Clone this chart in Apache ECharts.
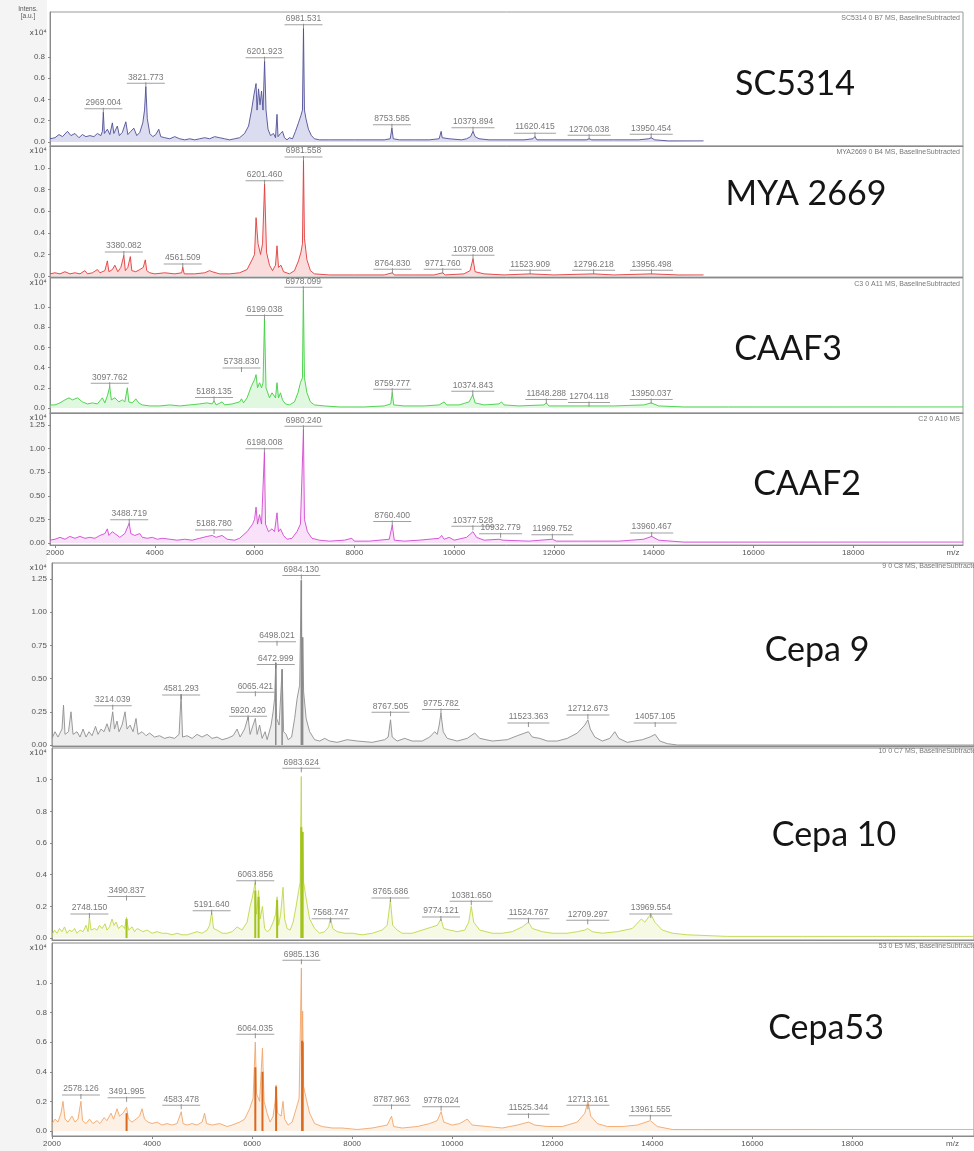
<!DOCTYPE html>
<html><head><meta charset="utf-8">
<script src="https://cdn.jsdelivr.net/npm/echarts@6/dist/echarts.min.js"></script>
<style>html,body{margin:0;padding:0;background:#fff}#c{width:974px;height:1151px}</style>
</head><body><div id="c"></div>
<script>
// ---------- DATA (intensity in units of 10^4 a.u., x = m/z) ----------
const strains = ['SC5314', 'MYA 2669', 'CAAF3', 'CAAF2', 'Cepa 9', 'Cepa 10', 'Cepa53'];
const headers = ['SC5314 0 B7 MS, BaselineSubtracted', 'MYA2669 0 B4 MS, BaselineSubtracted', 'C3 0 A11 MS, BaselineSubtracted', 'C2 0 A10 MS', '9 0 C8 MS, BaselineSubtracted', '10 0 C7 MS, BaselineSubtracted', '53 0 E5 MS, BaselineSubtracted'];
const xTicksTop = [2000, 4000, 6000, 8000, 10000, 12000, 14000, 16000, 18000, 20000];
const xTicksBottom = [2000, 4000, 6000, 8000, 10000, 12000, 14000, 16000, 18000, 20000];
const yTicks = [
  [0, 0.2, 0.4, 0.6, 0.8],
  [0, 0.2, 0.4, 0.6, 0.8, 1.0],
  [0, 0.2, 0.4, 0.6, 0.8, 1.0],
  [0, 0.25, 0.5, 0.75, 1.0, 1.25],
  [0, 0.25, 0.5, 0.75, 1.0, 1.25],
  [0, 0.2, 0.4, 0.6, 0.8, 1.0],
  [0, 0.2, 0.4, 0.6, 0.8, 1.0]
];

const specSC5314 = [[1900,0.03],[2000,0.04],[2080,0.07],[2150,0.05],[2250,0.1],[2320,0.06],[2400,0.08],[2480,0.04],[2550,0.07],[2620,0.05],[2700,0.06],[2780,0.05],[2850,0.08],[2920,0.06],[2950,0.1],[2969,0.28],[2990,0.08],[3050,0.12],[3100,0.07],[3150,0.18],[3180,0.08],[3250,0.15],[3290,0.06],[3350,0.09],[3420,0.19],[3460,0.07],[3520,0.1],[3580,0.13],[3640,0.06],[3700,0.09],[3760,0.18],[3795,0.3],[3821,0.52],[3850,0.22],[3900,0.08],[3960,0.05],[4020,0.07],[4080,0.12],[4120,0.05],[4200,0.04],[4300,0.03],[4400,0.05],[4500,0.03],[4600,0.02],[4700,0.03],[4800,0.02],[4900,0.03],[5000,0.04],[5100,0.03],[5200,0.05],[5300,0.04],[5400,0.03],[5500,0.02],[5600,0.03],[5700,0.04],[5800,0.08],[5880,0.15],[5940,0.3],[5990,0.45],[6030,0.55],[6050,0.3],[6080,0.5],[6110,0.35],[6140,0.48],[6170,0.3],[6201,0.76],[6230,0.3],[6270,0.12],[6320,0.06],[6380,0.08],[6420,0.04],[6450,0.26],[6470,0.05],[6520,0.08],[6560,0.1],[6600,0.04],[6650,0.02],[6700,0.04],[6760,0.03],[6820,0.1],[6880,0.18],[6930,0.25],[6960,0.3],[6981,1.07],[7000,0.3],[7030,0.22],[7080,0.12],[7140,0.06],[7200,0.03],[7300,0.02],[7500,0.02],[8000,0.02],[8600,0.02],[8720,0.03],[8753,0.13],[8780,0.03],[8900,0.02],[9200,0.02],[9500,0.02],[9700,0.03],[9740,0.1],[9760,0.04],[9900,0.03],[10150,0.02],[10250,0.03],[10330,0.05],[10379,0.1],[10420,0.05],[10500,0.03],[10700,0.02],[11000,0.02],[11400,0.02],[11580,0.03],[11620,0.05],[11660,0.02],[12000,0.02],[12400,0.02],[12650,0.02],[12706,0.03],[12760,0.02],[13200,0.02],[13700,0.02],[13900,0.03],[13950,0.04],[14020,0.02],[14300,0.01],[15000,0.01]];

const specMYA2669 = [[1900,0.02],[2000,0.03],[2100,0.02],[2200,0.04],[2300,0.02],[2400,0.03],[2500,0.02],[2600,0.05],[2650,0.02],[2750,0.03],[2850,0.06],[2900,0.03],[3000,0.05],[3050,0.14],[3080,0.04],[3150,0.06],[3200,0.1],[3260,0.04],[3320,0.08],[3380,0.19],[3410,0.05],[3460,0.08],[3510,0.18],[3540,0.05],[3620,0.04],[3700,0.06],[3770,0.08],[3810,0.15],[3840,0.05],[3900,0.03],[4000,0.02],[4200,0.03],[4400,0.02],[4540,0.03],[4561,0.08],[4590,0.02],[4800,0.02],[5000,0.03],[5100,0.05],[5150,0.04],[5300,0.02],[5500,0.02],[5700,0.03],[5850,0.06],[5950,0.15],[6000,0.2],[6030,0.54],[6070,0.3],[6120,0.2],[6160,0.3],[6201,0.85],[6240,0.22],[6300,0.1],[6360,0.05],[6420,0.1],[6450,0.28],[6480,0.08],[6530,0.1],[6580,0.04],[6700,0.02],[6800,0.05],[6880,0.14],[6930,0.22],[6960,0.3],[6981,1.07],[7000,0.35],[7050,0.15],[7120,0.05],[7200,0.02],[7500,0.01],[8000,0.01],[8600,0.01],[8764,0.03],[8800,0.01],[9200,0.01],[9600,0.01],[9771,0.03],[9820,0.01],[10200,0.02],[10320,0.05],[10379,0.16],[10420,0.04],[10600,0.02],[11000,0.01],[11523,0.02],[12000,0.01],[12796,0.02],[13200,0.01],[13956,0.02],[14500,0.01],[15000,0.01]];

const specCAAF3 = [[1900,0.03],[2000,0.03],[2100,0.05],[2200,0.08],[2280,0.1],[2350,0.08],[2450,0.1],[2550,0.06],[2650,0.04],[2750,0.05],[2850,0.04],[2950,0.1],[3000,0.05],[3050,0.12],[3097,0.21],[3130,0.08],[3200,0.1],[3280,0.06],[3350,0.08],[3400,0.06],[3450,0.2],[3480,0.06],[3550,0.05],[3620,0.09],[3680,0.05],[3750,0.03],[3900,0.02],[4100,0.02],[4300,0.03],[4500,0.02],[4700,0.03],[4900,0.04],[5050,0.05],[5150,0.04],[5188,0.07],[5230,0.03],[5350,0.06],[5400,0.03],[5550,0.04],[5700,0.06],[5738,0.09],[5780,0.05],[5850,0.1],[5940,0.22],[6000,0.28],[6030,0.33],[6060,0.2],[6100,0.25],[6140,0.2],[6170,0.25],[6199,0.88],[6230,0.2],[6300,0.1],[6350,0.15],[6420,0.1],[6450,0.25],[6480,0.1],[6520,0.15],[6560,0.08],[6620,0.04],[6700,0.03],[6800,0.06],[6870,0.15],[6920,0.25],[6960,0.3],[6978,1.16],[7000,0.3],[7050,0.15],[7120,0.06],[7200,0.03],[7400,0.02],[7700,0.01],[8200,0.01],[8600,0.02],[8730,0.04],[8759,0.15],[8790,0.03],[9000,0.02],[9400,0.02],[9700,0.03],[9800,0.06],[9850,0.03],[10100,0.03],[10300,0.06],[10374,0.13],[10420,0.05],[10600,0.03],[10900,0.04],[10950,0.06],[11000,0.03],[11300,0.02],[11800,0.03],[11848,0.05],[11900,0.02],[12300,0.02],[12704,0.02],[13200,0.02],[13800,0.03],[13950,0.05],[14100,0.02],[14600,0.01],[15500,0.01],[20200,0.01]];

const specCAAF2 = [[1900,0.03],[2000,0.04],[2100,0.06],[2200,0.04],[2300,0.07],[2400,0.05],[2500,0.07],[2600,0.05],[2700,0.06],[2800,0.05],[2900,0.08],[3000,0.1],[3050,0.15],[3080,0.08],[3150,0.12],[3200,0.1],[3300,0.06],[3400,0.1],[3488,0.21],[3520,0.1],[3600,0.08],[3700,0.1],[3750,0.06],[3850,0.05],[3950,0.06],[4050,0.04],[4150,0.05],[4300,0.04],[4450,0.03],[4600,0.04],[4750,0.03],[4900,0.05],[5050,0.07],[5150,0.08],[5188,0.1],[5230,0.06],[5350,0.08],[5450,0.04],[5600,0.03],[5700,0.05],[5850,0.12],[5960,0.2],[6000,0.25],[6030,0.38],[6060,0.2],[6100,0.3],[6140,0.2],[6170,0.22],[6198,0.96],[6220,0.2],[6280,0.12],[6350,0.15],[6400,0.12],[6450,0.32],[6480,0.12],[6520,0.15],[6580,0.08],[6650,0.04],[6750,0.05],[6850,0.12],[6920,0.2],[6960,0.22],[6980,1.2],[7000,0.25],[7060,0.12],[7150,0.05],[7300,0.03],[7500,0.02],[7800,0.03],[7950,0.05],[8000,0.02],[8300,0.02],[8700,0.04],[8760,0.19],[8800,0.03],[9000,0.02],[9300,0.03],[9700,0.05],[9750,0.08],[9800,0.04],[9900,0.06],[10000,0.03],[10250,0.06],[10377,0.12],[10450,0.06],[10600,0.03],[10900,0.04],[10932,0.06],[10980,0.03],[11500,0.02],[11969,0.04],[12050,0.02],[12500,0.02],[13300,0.02],[13800,0.04],[13960,0.07],[14100,0.03],[14600,0.01],[15500,0.01],[20200,0.01]];

const specCepa9 = [[2000,0.05],[2060,0.1],[2120,0.06],[2200,0.12],[2230,0.3],[2260,0.08],[2330,0.1],[2380,0.25],[2420,0.08],[2500,0.1],[2560,0.06],[2620,0.12],[2680,0.06],[2740,0.1],[2800,0.07],[2870,0.14],[2920,0.08],[2980,0.12],[3040,0.1],[3100,0.16],[3150,0.1],[3214,0.25],[3250,0.12],[3300,0.18],[3340,0.1],[3400,0.15],[3460,0.25],[3500,0.12],[3560,0.15],[3620,0.1],[3680,0.2],[3720,0.08],[3800,0.1],[3880,0.07],[3950,0.09],[4050,0.06],[4150,0.07],[4250,0.05],[4350,0.06],[4450,0.05],[4540,0.08],[4581,0.38],[4610,0.06],[4700,0.07],[4800,0.05],[4900,0.08],[5000,0.06],[5100,0.08],[5200,0.05],[5300,0.06],[5400,0.04],[5500,0.05],[5620,0.07],[5700,0.12],[5760,0.06],[5850,0.12],[5920,0.21],[5960,0.08],[6020,0.15],[6065,0.2],[6100,0.08],[6150,0.15],[6200,0.05],[6260,0.1],[6300,0.04],[6380,0.15],[6420,0.25],[6450,0.35],[6473,0.62],[6490,0.2],[6540,0.15],[6600,0.57],[6630,0.1],[6680,0.08],[6720,0.04],[6790,0.06],[6850,0.2],[6900,0.35],[6950,0.45],[6984,1.24],[6995,0.5],[7010,0.81],[7030,0.4],[7080,0.2],[7150,0.1],[7250,0.04],[7350,0.03],[7450,0.05],[7550,0.03],[7700,0.02],[7900,0.04],[8100,0.03],[8400,0.02],[8650,0.04],[8720,0.06],[8767,0.19],[8800,0.06],[8900,0.03],[9050,0.05],[9200,0.03],[9400,0.03],[9550,0.06],[9650,0.1],[9700,0.08],[9740,0.15],[9775,0.24],[9820,0.1],[9900,0.05],[10100,0.03],[10300,0.05],[10450,0.09],[10550,0.05],[10800,0.03],[11100,0.04],[11300,0.07],[11450,0.09],[11523,0.1],[11600,0.06],[11750,0.05],[11900,0.03],[12100,0.03],[12300,0.05],[12500,0.09],[12650,0.15],[12712,0.19],[12760,0.12],[12850,0.06],[13000,0.03],[13150,0.05],[13250,0.1],[13330,0.05],[13500,0.02],[13800,0.04],[13950,0.06],[14057,0.08],[14150,0.03],[14300,0.01],[14500,0.0],[20430,0.0]];
const darkCepa9 = [[6473,0.62],[6600,0.57],[6984,1.24],[7010,0.81]];

const specCepa10 = [[2000,0.02],[2050,0.05],[2100,0.03],[2150,0.06],[2200,0.04],[2250,0.07],[2300,0.03],[2350,0.05],[2400,0.04],[2450,0.06],[2500,0.03],[2560,0.05],[2620,0.04],[2680,0.08],[2720,0.04],[2748,0.13],[2780,0.05],[2850,0.06],[2900,0.05],[2950,0.08],[3000,0.06],[3060,0.09],[3100,0.05],[3150,0.07],[3200,0.12],[3240,0.08],[3280,0.1],[3330,0.06],[3400,0.08],[3450,0.06],[3490,0.13],[3530,0.05],[3600,0.07],[3650,0.04],[3700,0.06],[3760,0.05],[3820,0.04],[3900,0.05],[4000,0.03],[4100,0.04],[4200,0.03],[4300,0.03],[4400,0.02],[4500,0.03],[4600,0.02],[4700,0.02],[4800,0.03],[4900,0.04],[5000,0.03],[5100,0.05],[5150,0.08],[5191,0.16],[5230,0.06],[5300,0.05],[5400,0.03],[5500,0.03],[5600,0.04],[5700,0.07],[5800,0.05],[5900,0.1],[5960,0.2],[6000,0.25],[6030,0.3],[6063,0.35],[6090,0.15],[6130,0.3],[6160,0.12],[6207,0.2],[6250,0.06],[6300,0.04],[6350,0.05],[6420,0.1],[6470,0.15],[6500,0.26],[6530,0.08],[6570,0.15],[6618,0.32],[6650,0.12],[6700,0.06],[6760,0.05],[6820,0.1],[6880,0.2],[6930,0.3],[6960,0.35],[6983,1.02],[6995,0.5],[7010,0.67],[7030,0.35],[7080,0.25],[7150,0.12],[7250,0.06],[7350,0.03],[7450,0.04],[7530,0.07],[7568,0.13],[7610,0.06],[7700,0.04],[7850,0.03],[8000,0.03],[8200,0.02],[8400,0.03],[8600,0.05],[8700,0.08],[8765,0.24],[8810,0.08],[8900,0.05],[9000,0.03],[9200,0.03],[9400,0.05],[9600,0.07],[9700,0.08],[9774,0.12],[9830,0.06],[9950,0.05],[10100,0.04],[10250,0.05],[10330,0.1],[10381,0.2],[10430,0.1],[10550,0.05],[10800,0.03],[11000,0.03],[11200,0.04],[11400,0.07],[11524,0.1],[11600,0.06],[11800,0.04],[12000,0.03],[12300,0.03],[12500,0.04],[12650,0.05],[12709,0.06],[12800,0.04],[13000,0.03],[13300,0.04],[13600,0.06],[13780,0.12],[13850,0.1],[13969,0.15],[14050,0.1],[14200,0.05],[14400,0.03],[14700,0.02],[15500,0.01],[17000,0.01],[20430,0.01]];
const darkCepa10 = [[3490,0.12],[6063,0.3],[6130,0.26],[6500,0.24],[6983,0.7],[7010,0.67]];

const specCepa53 = [[2000,0.05],[2060,0.08],[2120,0.06],[2180,0.12],[2220,0.2],[2260,0.08],[2320,0.06],[2400,0.1],[2460,0.06],[2520,0.08],[2578,0.2],[2610,0.07],[2680,0.05],[2750,0.08],[2820,0.05],[2900,0.07],[2960,0.05],[3040,0.09],[3100,0.07],[3180,0.12],[3230,0.08],[3300,0.15],[3350,0.1],[3420,0.12],[3491,0.16],[3530,0.08],[3600,0.06],[3680,0.08],[3750,0.1],[3800,0.15],[3850,0.08],[3920,0.06],[4000,0.05],[4100,0.06],[4200,0.04],[4300,0.05],[4400,0.04],[4500,0.05],[4583,0.13],[4620,0.05],[4700,0.04],[4800,0.05],[4900,0.04],[5000,0.06],[5050,0.12],[5090,0.05],[5200,0.04],[5350,0.05],[5500,0.03],[5600,0.04],[5750,0.06],[5850,0.08],[5950,0.15],[6020,0.22],[6064,0.6],[6090,0.25],[6150,0.2],[6207,0.56],[6240,0.2],[6300,0.12],[6360,0.06],[6420,0.1],[6460,0.2],[6480,0.31],[6510,0.12],[6580,0.1],[6618,0.2],[6650,0.08],[6720,0.04],[6800,0.06],[6880,0.15],[6940,0.22],[6985,1.1],[6995,0.5],[7010,0.81],[7030,0.3],[7080,0.22],[7150,0.12],[7250,0.05],[7400,0.03],[7600,0.02],[7800,0.02],[8100,0.01],[8400,0.02],[8700,0.04],[8787,0.1],[8830,0.03],[9000,0.02],[9300,0.03],[9550,0.05],[9700,0.07],[9778,0.13],[9830,0.06],[10000,0.04],[10150,0.05],[10300,0.08],[10400,0.04],[10700,0.03],[11000,0.02],[11300,0.04],[11525,0.06],[11650,0.04],[11900,0.03],[12200,0.03],[12500,0.06],[12650,0.12],[12713,0.2],[12770,0.1],[12900,0.05],[13100,0.03],[13400,0.03],[13700,0.04],[13961,0.07],[14100,0.03],[14400,0.01],[15000,0.01],[20430,0.01]];
const darkCepa53 = [[3491,0.12],[6064,0.43],[6207,0.4],[6480,0.3],[7000,0.61],[7010,0.6]];

// peak annotations: [m/z, intensity at label anchor, text]
const peaksSC5314 = [[2969,0.28,'2969.004'],[3821,0.52,'3821.773'],[6201,0.76,'6201.923'],[6981,1.07,'6981.531'],[8753,0.13,'8753.585'],[10379,0.1,'10379.894'],[11620,0.05,'11620.415'],[12706,0.03,'12706.038'],[13950,0.04,'13950.454']];
const peaksMYA2669 = [[3380,0.19,'3380.082'],[4561,0.08,'4561.509'],[6201,0.85,'6201.460'],[6981,1.07,'6981.558'],[8764,0.03,'8764.830'],[9771,0.03,'9771.760'],[10379,0.16,'10379.008'],[11523,0.02,'11523.909'],[12796,0.02,'12796.218'],[13956,0.02,'13956.498']];
const peaksCAAF3 = [[3097,0.21,'3097.762'],[5188,0.07,'5188.135'],[5738,0.36,'5738.830'],[6199,0.88,'6199.038'],[6978,1.16,'6978.099'],[8759,0.15,'8759.777'],[10374,0.13,'10374.843'],[11848,0.05,'11848.288'],[12704,0.02,'12704.118'],[13950,0.05,'13950.037']];
const peaksCAAF2 = [[3488,0.21,'3488.719'],[5188,0.1,'5188.780'],[6198,0.96,'6198.008'],[6980,1.2,'6980.240'],[8760,0.19,'8760.400'],[10377,0.14,'10377.528'],[10932,0.06,'10932.779'],[11969,0.05,'11969.752'],[13960,0.07,'13960.467']];
const peaksCepa9 = [[3214,0.27,'3214.039'],[4581,0.35,'4581.293'],[5920,0.19,'5920.420'],[6065,0.37,'6065.421'],[6473,0.58,'6472.999'],[6498,0.75,'6498.021'],[6984,1.25,'6984.130'],[8767,0.22,'8767.505'],[9775,0.24,'9775.782'],[11523,0.14,'11523.363'],[12712,0.2,'12712.673'],[14057,0.14,'14057.105']];
const peaksCepa10 = [[2748,0.13,'2748.150'],[3490,0.24,'3490.837'],[5191,0.15,'5191.640'],[6063,0.34,'6063.856'],[6983,1.05,'6983.624'],[7568,0.1,'7568.747'],[8765,0.23,'8765.686'],[9774,0.11,'9774.121'],[10381,0.21,'10381.650'],[11524,0.1,'11524.767'],[12709,0.09,'12709.297'],[13969,0.13,'13969.554']];
const peaksCepa53 = [[2578,0.22,'2578.126'],[3491,0.2,'3491.995'],[4583,0.15,'4583.478'],[6064,0.63,'6064.035'],[6985,1.13,'6985.136'],[8787,0.15,'8787.963'],[9778,0.14,'9778.024'],[11525,0.09,'11525.344'],[12713,0.15,'12713.161'],[13961,0.08,'13961.555']];

// ---------- LAYOUT / STYLE ----------
const spectra = [specSC5314, specMYA2669, specCAAF3, specCAAF2, specCepa9, specCepa10, specCepa53];
const darks = [null, null, null, null, darkCepa9, darkCepa10, darkCepa53];
const peaks = [peaksSC5314, peaksMYA2669, peaksCAAF3, peaksCAAF2, peaksCepa9, peaksCepa10, peaksCepa53];
const colors = ['#4e4e96', '#e23a3a', '#3fcf3f', '#d246d2', '#8e8e8e', '#c2d64a', '#f2a66a'];
const areaColors = ['#9a9ad6', '#f39a9a', '#a6eca6', '#eeaaee', '#cfcfcf', '#e4edb0', '#f9d3b2'];
const darkColors = [null, null, null, null, '#8a8a8a', '#a2c41c', '#d8691e'];
const darkWidths = [0, 0, 0, 0, 1.5, 2, 2];
const grids = [
  {top: 12, height: 134, ymin: -0.038, ymax: 1.224, top_: true},
  {top: 146, height: 131, ymin: -0.009, ymax: 1.204, top_: true},
  {top: 278, height: 135, ymin: -0.05, ymax: 1.287, top_: true},
  {top: 413, height: 132, ymin: -0.021, ymax: 1.377, top_: true},
  {top: 563, height: 183, ymin: -0.0075, ymax: 1.37, top_: false},
  {top: 748, height: 192, ymin: -0.0127, ymax: 1.2, top_: false},
  {top: 943, height: 193, ymin: -0.034, ymax: 1.27, top_: false}
];
const decimals = [1, 1, 1, 2, 2, 1, 1];
const nameCenters = [[795, 84], [806, 194], [788, 349], [807, 484], [817, 650], [834, 835], [826, 1028]];

const LABEL_FONT = '8.5px "Liberation Sans"';
const measureCtx = document.createElement('canvas').getContext('2d');
measureCtx.font = LABEL_FONT;
function textW(s) { return Math.ceil(measureCtx.measureText(s).width) + 2; }

const option = {
  animation: false,
  backgroundColor: '#ffffff',
  grid: [], xAxis: [], yAxis: [], series: [], graphic: []
};

option.graphic.push({type: 'rect', shape: {x: 0, y: 0, width: 47, height: 1151}, style: {fill: '#f4f4f4'}, z: -10, silent: true});

grids.forEach((g, i) => {
  const isTop = g.top_;
  option.grid.push({
    left: isTop ? 50 : 52, top: g.top, height: g.height,
    width: isTop ? 913 : 942,
    show: true, borderColor: isTop ? '#9a9a9a' : '#8a8a8a', borderWidth: 1, backgroundColor: 'transparent'
  });
  const lastTop = i === 3, lastBottom = i === 6;
  const ticks = isTop ? xTicksTop : xTicksBottom;
  option.xAxis.push({
    type: 'value', gridIndex: i,
    min: isTop ? 1900 : 2000, max: isTop ? 20200 : 20430,
    axisLine: {show: true, onZero: false, lineStyle: {color: '#8a8a8a'}},
    splitLine: {show: false},
    axisTick: {show: lastTop || lastBottom, customValues: ticks, length: 3, inside: false, lineStyle: {color: '#888'}},
    axisLabel: {
      show: lastTop || lastBottom, customValues: ticks, margin: 4,
      fontSize: 8, color: '#555', fontFamily: 'Liberation Sans',
      formatter: v => (v === 20000 ? 'm/z' : String(v))
    }
  });
  option.yAxis.push({
    type: 'value', gridIndex: i, min: g.ymin, max: g.ymax,
    axisLine: {show: true, lineStyle: {color: '#8a8a8a'}},
    splitLine: {show: false},
    axisTick: {show: true, customValues: yTicks[i], length: 2, lineStyle: {color: '#888'}},
    axisLabel: {
      customValues: yTicks[i], margin: 5, fontSize: 8, color: '#555', fontFamily: 'Liberation Sans',
      formatter: v => v.toFixed(decimals[i])
    }
  });
  option.series.push({
    type: 'line', xAxisIndex: i, yAxisIndex: i, data: spectra[i],
    showSymbol: false, symbol: 'none', smooth: false,
    lineStyle: {color: colors[i], width: 0.9},
    areaStyle: {color: areaColors[i], opacity: 0.35, origin: 0},
    z: 2
  });
  if (darks[i]) {
    option.series.push({
      type: 'bar', xAxisIndex: i, yAxisIndex: i, data: darks[i],
      barWidth: darkWidths[i], itemStyle: {color: darkColors[i]}, z: 3
    });
  }
  option.series.push({
    type: 'scatter', xAxisIndex: i, yAxisIndex: i,
    data: peaks[i].map(p => ({
      value: [p[0], p[1]], name: p[2],
      label: {
        rich: {
          t: {fontSize: 8.5, color: '#555', fontFamily: 'Liberation Sans', lineHeight: 10, align: 'center'},
          u: {width: textW(p[2]), height: 1, lineHeight: 2, backgroundColor: '#8a8a8a', align: 'center'}
        }
      }
    })),
    symbol: 'rect', symbolSize: [1, 5], symbolOffset: [0, -2],
    itemStyle: {color: '#777'}, z: 4,
    label: {
      show: true, position: 'top', distance: -2, align: 'center',
      formatter: p => '{t|' + p.name + '}\n{u|}'
    }
  });
  // strain name
  option.graphic.push({
    type: 'text', x: nameCenters[i][0], y: nameCenters[i][1], z: 10,
    style: {text: strains[i], font: '34px Lato', fill: '#151515', textAlign: 'center', textVerticalAlign: 'middle'}
  });
  // header text
  option.graphic.push({
    type: 'text', x: isTop ? 960 : 980, y: g.top + (isTop ? 6 : 3), z: 10,
    style: {text: headers[i], font: '7px "Liberation Sans"', fill: '#777', textAlign: 'right', textVerticalAlign: 'middle'}
  });
  // x10^4 marker
  option.graphic.push({
    type: 'text', x: 38, y: g.top + (i === 0 ? 21 : 5), z: 10,
    style: {text: 'x10⁴', font: '7.5px "DejaVu Sans"', fill: '#555', textAlign: 'center', textVerticalAlign: 'middle'}
  });
});
option.graphic.push({
  type: 'text', x: 28, y: 13, z: 10,
  style: {text: 'Intens.\n[a.u.]', font: '6.5px "Liberation Sans"', fill: '#555', textAlign: 'center', textVerticalAlign: 'middle', lineHeight: 7}
});

const chart = echarts.init(document.getElementById('c'), null, {renderer: 'canvas'});
chart.setOption(option);
</script>
</body></html>
